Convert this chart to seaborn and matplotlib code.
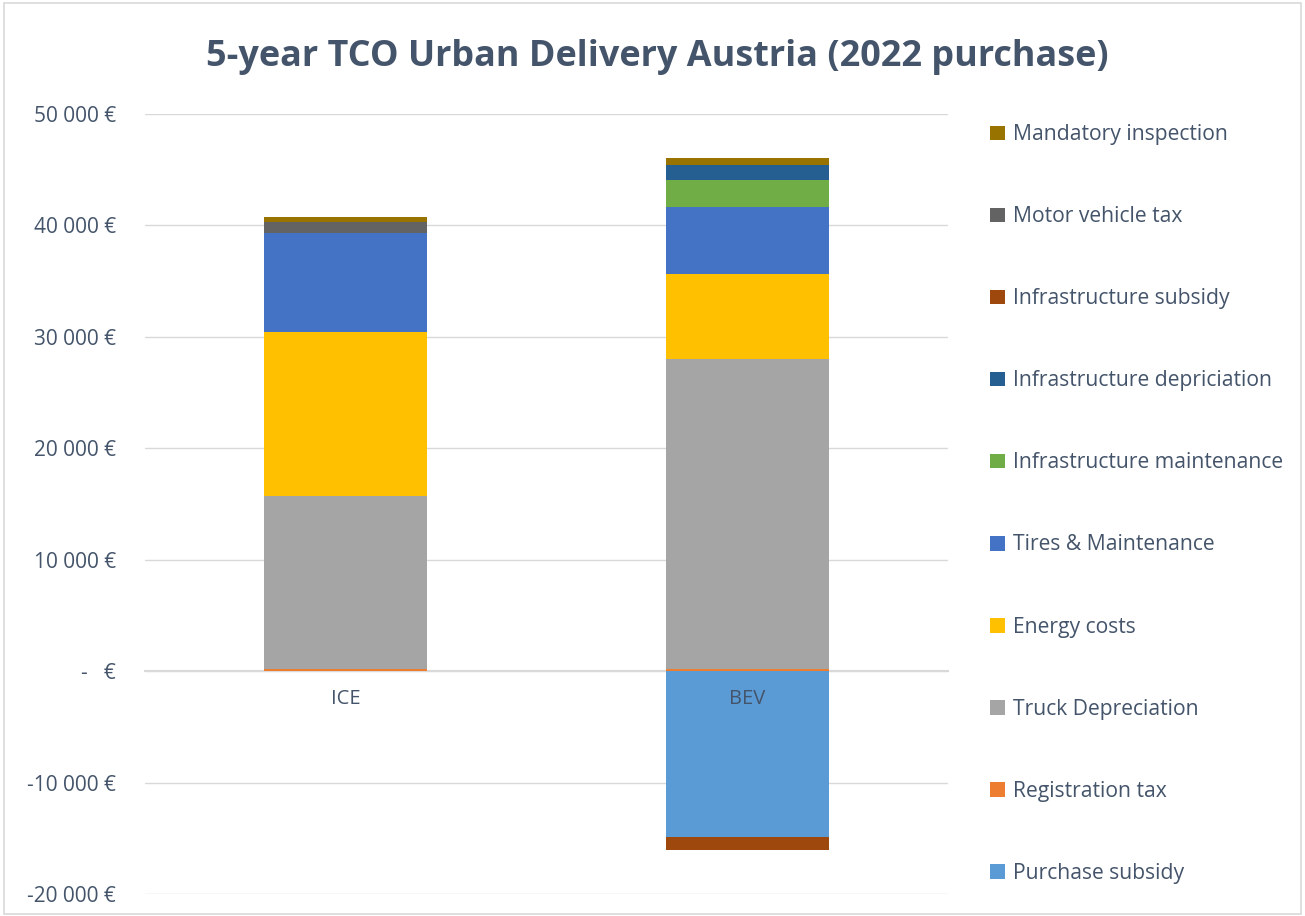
import matplotlib
matplotlib.use("Agg")
import matplotlib.pyplot as plt
import seaborn as sns
import pandas as pd
import numpy as np
from matplotlib.patches import Patch, Rectangle
from matplotlib.ticker import FuncFormatter

categories = ["ICE", "BEV"]
# stack order (bottom to top); negative values stack downward
series = [
    "Purchase subsidy", "Registration tax", "Truck Depreciation", "Energy costs",
    "Tires & Maintenance", "Infrastructure maintenance", "Infrastructure depriciation",
    "Infrastructure subsidy", "Motor vehicle tax", "Mandatory inspection",
]
purchase_subsidy = [0, -14900]
registration_tax = [200, 200]
truck_depreciation = [15500, 27800]
energy_costs = [14700, 7600]
tires_maintenance = [8900, 6050]
infra_maintenance = [0, 2450]
infra_depreciation = [0, 1350]
infra_subsidy = [0, -1150]
motor_vehicle_tax = [1000, 0]
mandatory_inspection = [450, 600]

values = [purchase_subsidy, registration_tax, truck_depreciation, energy_costs,
          tires_maintenance, infra_maintenance, infra_depreciation, infra_subsidy,
          motor_vehicle_tax, mandatory_inspection]
colors = ["#5B9BD5", "#ED7D31", "#A5A5A5", "#FFC000", "#4472C4", "#70AD47",
          "#255E91", "#9E480E", "#636363", "#997300"]

sns.set_theme(style="white")
plt.rcParams['font.family'] = ['Open Sans', 'DejaVu Sans']
text_col = "#44546A"

fig = plt.figure(figsize=(13.05, 9.16), dpi=100)
ax = fig.add_axes([145/1305, 1-894/916, (948-145)/1305, (894-114)/916])

pos_base = np.zeros(len(categories))
neg_base = np.zeros(len(categories))
for name, vals, col in zip(series, values, colors):
    vals = np.array(vals, dtype=float)
    bottoms = np.where(vals >= 0, pos_base, neg_base)
    df = pd.DataFrame({"cat": categories, "val": vals})
    sns.barplot(data=df, x="cat", y="val", order=categories, color=col,
                width=0.405, bottom=bottoms, ax=ax, saturation=1,
                linewidth=0, errorbar=None)
    pos_base = pos_base + np.where(vals >= 0, vals, 0)
    neg_base = neg_base + np.where(vals < 0, vals, 0)

ax.set_ylim(-20000, 50000)
ax.set_xlim(-0.5, 1.5)
ax.set_yticks(np.arange(-20000, 50001, 10000))
def fmt(v, p):
    if v == 0:
        return "-   €"
    s = f"{int(abs(v)):,}".replace(",", " ") + " €"
    return ("-" if v < 0 else "") + s
ax.yaxis.set_major_formatter(FuncFormatter(fmt))
ax.grid(axis="y", color="#D9D9D9", linewidth=1)
ax.set_axisbelow(True)
ax.xaxis.set_zorder(5)
for s in ["top", "right", "left"]:
    ax.spines[s].set_visible(False)
ax.spines["bottom"].set_position(("data", 0))
ax.spines["bottom"].set_color("#D9D9D9")
ax.spines["bottom"].set_linewidth(1.5)
ax.spines["bottom"].set_zorder(0.5)
ax.tick_params(axis="y", length=0, labelsize=15, labelcolor=text_col, pad=21)
ax.tick_params(axis="x", length=0, labelsize=14.5, labelcolor=text_col, pad=13)
ax.set_xlabel("")
ax.set_ylabel("")

fig.text(657/1305, 1-57/916, "5-year TCO Urban Delivery Austria (2022 purchase)",
         ha="center", va="center", fontsize=25.9, fontweight="bold", color=text_col)

handles = [Patch(facecolor=c, edgecolor="none") for c in colors[::-1]]
labels = series[::-1]
leg = fig.legend(handles, labels, loc="upper left", bbox_to_anchor=(982/1305, 1-116/916),
                 frameon=False, fontsize=15.2, labelcolor=text_col,
                 handlelength=0.7, handleheight=0.7, handletextpad=0.35,
                 labelspacing=2.89, borderaxespad=0)

fig.patches.append(Rectangle((4/1305, 0.002), 1-8/1305, 0.995, transform=fig.transFigure,
                             fill=False, edgecolor="#D9D9D9", linewidth=1.2))

fig.savefig("out.png", dpi=100)
